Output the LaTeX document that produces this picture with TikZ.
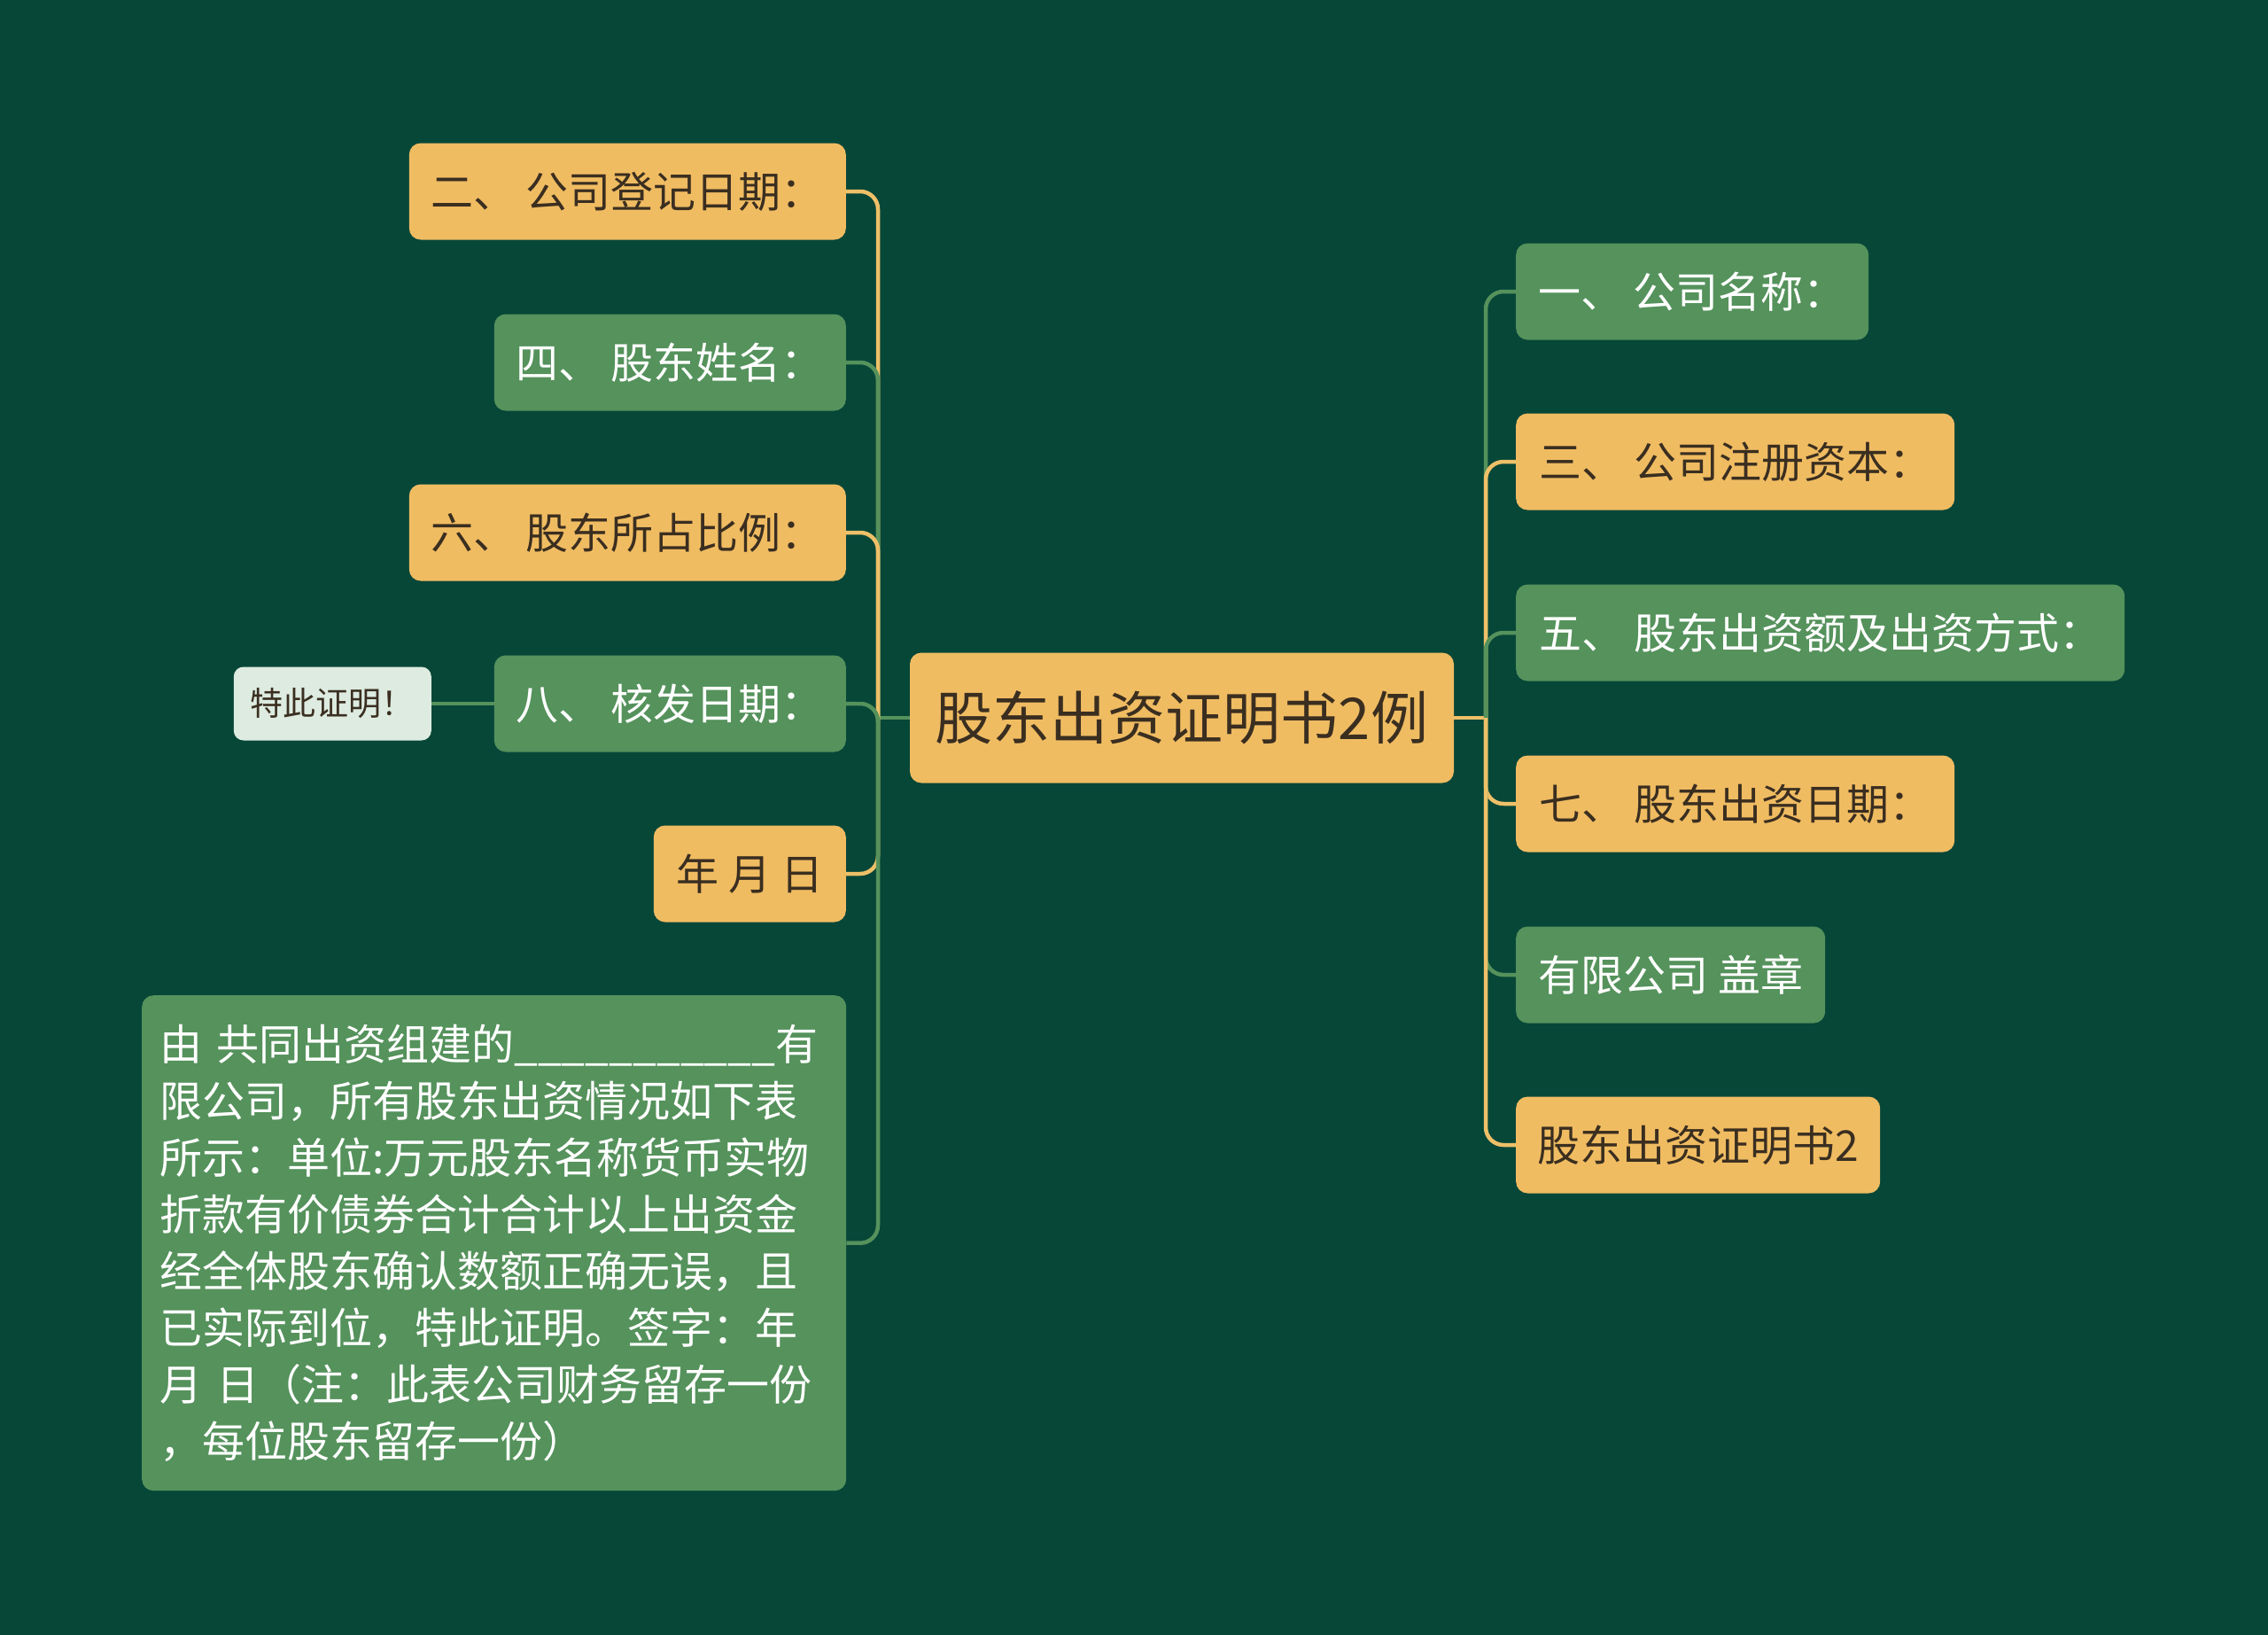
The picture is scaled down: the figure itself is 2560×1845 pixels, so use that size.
\documentclass[tikz,border=0pt]{standalone}
\usepackage{fontspec}
\setmainfont{Noto Sans CJK SC}
\definecolor{bg}{RGB}{7,71,56}
\definecolor{org}{RGB}{240,188,98}
\definecolor{grn}{RGB}{85,146,92}
\definecolor{lgt}{RGB}{221,235,224}
\definecolor{dtx}{RGB}{58,46,32}
\definecolor{orgline}{RGB}{238,192,104}
\begin{document}
\begin{tikzpicture}[x=1pt,y=-1pt,
  box/.style={rectangle,rounded corners=13pt,minimum height=109pt,inner xsep=18pt,inner ysep=0pt,font=\fontsize{48}{56}\selectfont},
  obox/.style={box,fill=org,text=dtx},
  gbox/.style={box,fill=grn,text=white},
  conO/.style={draw=orgline,line width=4.5pt,rounded corners=20pt},
  conG/.style={draw=grn,line width=4.5pt,rounded corners=20pt}]
\useasboundingbox[fill=bg] (0,0) rectangle (2560,1845);

% root
\node[obox,minimum width=614pt,minimum height=147pt,font=\fontsize{65}{72}\selectfont] (root) at (1334,810) {股东出资证明书2例};
\coordinate (LT) at (991,810);
\coordinate (RT) at (1677,810);

% left children
\node[obox,anchor=east,minimum width=493pt] (n2) at (955,216) {二、 公司登记日期：};
\node[gbox,anchor=east,minimum width=397pt] (n4) at (955,409) {四、 股东姓名：};
\node[obox,anchor=east,minimum width=493pt] (n6) at (955,601) {六、 股东所占比例：};
\node[gbox,anchor=east,minimum width=397pt] (n8) at (955,794) {八、 核发日期：};
\node[obox,anchor=east,minimum width=217pt] (nd) at (955,986) {年 月 日};
\node[gbox,anchor=north west,minimum width=795pt,minimum height=559pt,text width=755pt,inner xsep=20pt,align=left,font=\fontsize{48}{64}\selectfont] (nt) at (160,1123) {由 共同出资组建的\_\_\_\_\_\_\_\_\_\_\_有\\限公司，所有股东出资情况如下表\\所示：单位:万元股东名称货币实物\\折款有价债券合计合计以上出资金\\经全体股东确认数额正确无误，且\\已实际到位，特此证明。签字：年\\月 日（注：此表公司财务留存一份\\，每位股东留存一份）};
\node[box,fill=lgt,text=dtx,anchor=east,minimum width=223pt,minimum height=83pt,rounded corners=11pt,inner xsep=10pt,font=\fontsize{37}{42}\selectfont] (tc) at (487,794) {特此证明！};

% right children
\node[gbox,anchor=west,minimum width=398pt] (n1) at (1711,329) {一、 公司名称：};
\node[obox,anchor=west,minimum width=495pt] (n3) at (1711,521) {三、 公司注册资本：};
\node[gbox,anchor=west,minimum width=687pt] (n5) at (1711,714) {五、 股东出资额及出资方式：};
\node[obox,anchor=west,minimum width=495pt] (n7) at (1711,907) {七、 股东出资日期：};
\node[gbox,anchor=west,minimum width=349pt] (ns) at (1711,1100) {有限公司 盖章};
\node[obox,anchor=west,minimum width=411pt] (nb) at (1711,1292) {股东出资证明书2};

% connectors left
\draw[conG] (root.west) -- (LT);
\draw[conO] (LT) |- (n2.east);
\draw[conG] (LT) |- (n4.east);
\draw[conO] (LT) |- (n6.east);
\draw[conG] (LT) |- (n8.east);
\draw[conO] (LT) |- (nd.east);
\draw[conG] (LT) |- (nt.east);
\draw[conG] (n8.west) -- (tc.east);
% connectors right
\draw[conO] (root.east) -- (RT);
\draw[conG] (RT) |- (n1.west);
\draw[conO] (RT) |- (n3.west);
\draw[conG] (RT) |- (n5.west);
\draw[conO] (RT) |- (n7.west);
\draw[conG] (RT) |- (ns.west);
\draw[conO] (RT) |- (nb.west);
\end{tikzpicture}
\end{document}
